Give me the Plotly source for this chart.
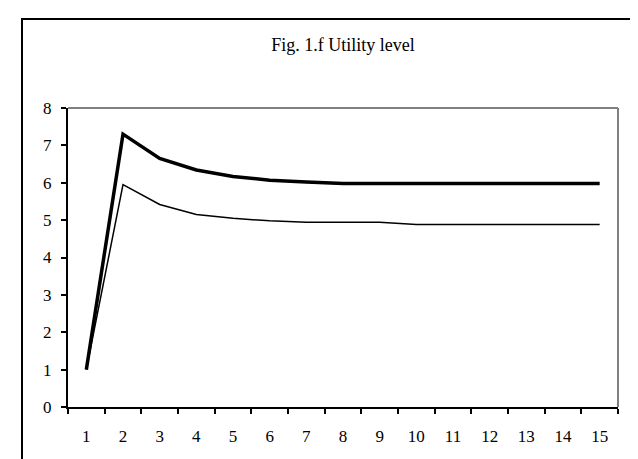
import plotly.graph_objects as go

periods = [str(i) for i in range(1, 16)]
utility_high = [1.0, 7.3, 6.65, 6.34, 6.17, 6.07, 6.02, 5.98, 5.98, 5.98, 5.98, 5.98, 5.98, 5.98, 5.98]
utility_low = [1.0, 5.95, 5.42, 5.15, 5.05, 4.98, 4.94, 4.94, 4.94, 4.88, 4.88, 4.88, 4.88, 4.88, 4.88]
y_ticks = [0, 1, 2, 3, 4, 5, 6, 7, 8]

FONT = "Liberation Serif, Times New Roman, serif"

fig = go.Figure()
fig.add_trace(go.Scatter(x=periods, y=utility_high, mode="lines",
                         line=dict(color="black", width=3.5), showlegend=False))
fig.add_trace(go.Scatter(x=periods, y=utility_low, mode="lines",
                         line=dict(color="black", width=1.5), showlegend=False))

fig.update_layout(
    width=638, height=459,
    margin=dict(l=60, r=28, t=100, b=60),
    paper_bgcolor="white", plot_bgcolor="white",
    font=dict(family=FONT, size=17, color="black"),
    title=dict(text="Fig. 1.f Utility level", x=0.5, xref="paper", xanchor="center",
               y=1 - 37 / 459, yanchor="middle", yref="container",
               font=dict(family=FONT, size=18, color="black")),
    xaxis=dict(type="category", range=[-0.5, 14.5], showgrid=False, zeroline=False,
               showline=True, linecolor="black", linewidth=2,
               ticks="outside", tickson="boundaries", ticklen=5, tickwidth=1.5,
               tickcolor="black", ticklabelstandoff=13,
               tickfont=dict(family=FONT, size=17, color="black")),
    yaxis=dict(range=[0, 8], tickvals=y_ticks, showgrid=False, zeroline=False,
               showline=True, linecolor="black", linewidth=2,
               ticks="outside", ticklen=5, tickwidth=1.5, tickcolor="black",
               ticklabelstandoff=6,
               tickfont=dict(family=FONT, size=17, color="black")),
    shapes=[
        # gray top and right plot borders
        dict(type="line", xref="paper", yref="paper", x0=0, x1=1, y0=1, y1=1,
             line=dict(color="#808080", width=2)),
        dict(type="line", xref="paper", yref="paper", x0=1, x1=1, y0=0, y1=1,
             line=dict(color="#808080", width=2)),
        # outer frame
        dict(type="rect", xref="paper", yref="paper",
             x0=(14 - 60) / 550, x1=(627 - 60) / 550,
             y0=(399 - 475) / 299, y1=(399 - 11) / 299,
             line=dict(color="black", width=2), fillcolor="rgba(0,0,0,0)"),
    ],
)

fig.write_html("out.html")
